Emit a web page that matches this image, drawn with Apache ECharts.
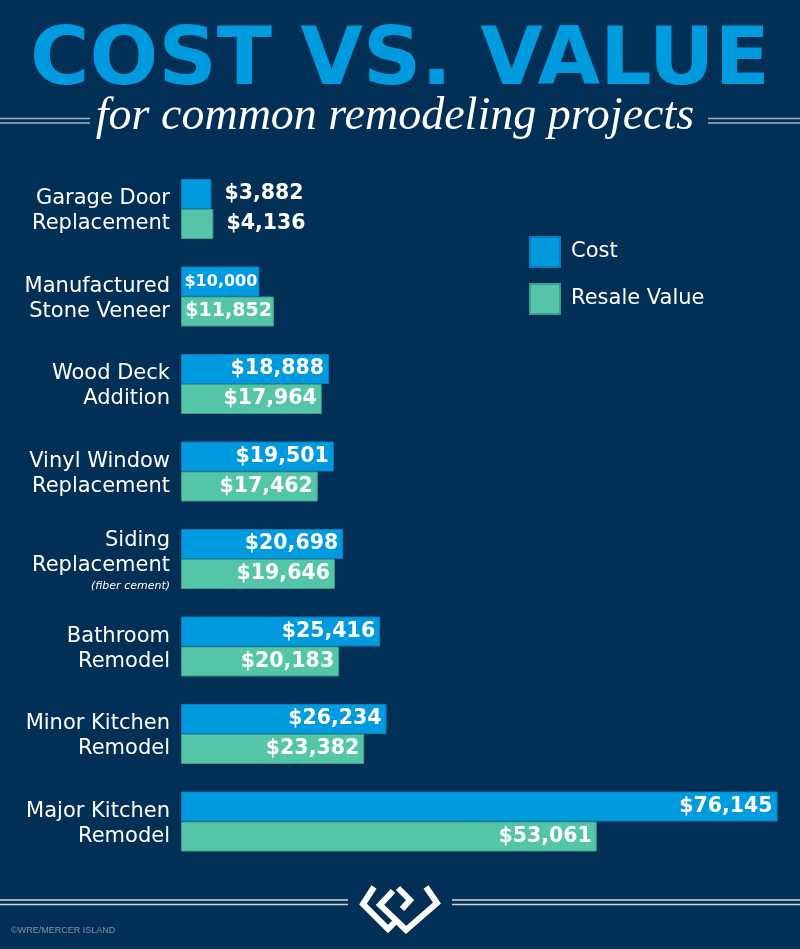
<!DOCTYPE html>
<html>
<head>
<meta charset="utf-8">
<script src="https://cdn.jsdelivr.net/npm/echarts@6/dist/echarts.min.js"></script>
<style>
html,body{margin:0;padding:0;background:#022f55;}
#chart{width:800px;height:949px;}
</style>
</head>
<body>
<div id="chart"></div>
<script>
const categories = [
  'Garage Door\nReplacement',
  'Manufactured\nStone Veneer',
  'Wood Deck\nAddition',
  'Vinyl Window\nReplacement',
  'Siding\nReplacement',
  'Bathroom\nRemodel',
  'Minor Kitchen\nRemodel',
  'Major Kitchen\nRemodel'
];
const categoryNotes = ['', '', '', '', '(fiber cement)', '', '', ''];
const costValues = [3882, 10000, 18888, 19501, 20698, 25416, 26234, 76145];
const resaleValues = [4136, 11852, 17964, 17462, 19646, 20183, 23382, 53061];
const seriesNames = ['Cost', 'Resale Value'];

const BG = '#022f55';
const BLUE = '#009bde';
const TEAL = '#54c5a6';
const FONT = 'DejaVu Sans';
const AXIS_MAX = 79000;
const GRID_LEFT = 181;
const GRID_WIDTH = 619;
const LABEL_SIZE = 20.5;

function money(v) {
  return '$' + v.toLocaleString('en-US');
}
// approximate text width of a bold DejaVu money label at a given size
function labelWidth(v, size) {
  const s = money(v);
  let w = 0;
  for (const ch of s) w += (ch === ',' ? 0.38 : 0.696);
  return w * size;
}
function buildData(values) {
  return values.map(function (v) {
    const barPx = v / AXIS_MAX * GRID_WIDTH;
    if (barPx < 60) {
      return { value: v, label: { position: 'right', distance: 13 } };
    }
    const need = labelWidth(v, LABEL_SIZE) + 8;
    if (need > barPx) {
      const size = Math.floor((barPx - 4) / labelWidth(v, 1));
      return { value: v, label: { fontSize: size, distance: 2 } };
    }
    return v;
  });
}

const chart = echarts.init(document.getElementById('chart'), null, { renderer: 'canvas' });

const option = {
  backgroundColor: BG,
  animation: false,
  grid: { left: GRID_LEFT, top: 165.25, width: GRID_WIDTH, height: 700, containLabel: false },
  xAxis: { type: 'value', min: 0, max: AXIS_MAX, show: false },
  yAxis: {
    type: 'category',
    data: categories,
    inverse: true,
    axisLine: { show: false },
    axisTick: { show: false },
    splitLine: { show: false },
    axisLabel: {
      color: '#ffffff',
      fontFamily: FONT,
      fontSize: 21,
      lineHeight: 25,
      align: 'right',
      margin: 11,
      padding: [5, 0, 0, 0],
      formatter: function (value, idx) {
        const note = categoryNotes[idx];
        return note ? value + '\n{s|' + note + '}' : value;
      },
      rich: {
        s: { fontFamily: FONT, fontSize: 11, fontStyle: 'italic', lineHeight: 16, color: '#ffffff', align: 'right' }
      }
    }
  },
  legend: {
    data: seriesNames,
    orient: 'vertical',
    left: 529,
    top: 236,
    itemWidth: 30,
    itemHeight: 30,
    itemGap: 15,
    padding: 0,
    icon: 'rect',
    textStyle: { color: '#ffffff', fontFamily: FONT, fontSize: 21, padding: [0, 0, 0, 6] }
  },
  series: [
    {
      name: seriesNames[0],
      type: 'bar',
      data: buildData(costValues),
      barWidth: 30,
      barGap: '0%',
      itemStyle: { color: BLUE, borderColor: '#0a7fbc', borderWidth: 1 },
      label: {
        show: true,
        position: 'insideRight',
        distance: 5,
        color: '#ffffff',
        fontFamily: FONT,
        fontWeight: 'bold',
        fontSize: LABEL_SIZE,
        formatter: function (p) { return money(p.value); }
      }
    },
    {
      name: seriesNames[1],
      type: 'bar',
      data: buildData(resaleValues),
      barWidth: 30,
      barGap: '0%',
      itemStyle: { color: TEAL, borderColor: '#3a9e8c', borderWidth: 1 },
      label: {
        show: true,
        position: 'insideRight',
        distance: 5,
        color: '#ffffff',
        fontFamily: FONT,
        fontWeight: 'bold',
        fontSize: LABEL_SIZE,
        formatter: function (p) { return money(p.value); }
      }
    }
  ],
  graphic: [
    {
      type: 'text', x: 400, y: 63,
      style: { text: 'COST VS. VALUE', fill: BLUE, font: 'bold 81px "DejaVu Sans"', align: 'center', verticalAlign: 'middle' }
    },
    {
      type: 'text', x: 395, y: 117,
      style: { text: 'for common remodeling projects', fill: '#ffffff', font: 'italic 46px "Liberation Serif"', align: 'center', verticalAlign: 'middle' }
    },
    { type: 'line', shape: { x1: 0, y1: 118.5, x2: 90, y2: 118.5 }, style: { stroke: '#9fb3c6', lineWidth: 1.5 } },
    { type: 'line', shape: { x1: 0, y1: 123, x2: 90, y2: 123 }, style: { stroke: '#9fb3c6', lineWidth: 1.5 } },
    { type: 'line', shape: { x1: 708, y1: 118.5, x2: 800, y2: 118.5 }, style: { stroke: '#9fb3c6', lineWidth: 1.5 } },
    { type: 'line', shape: { x1: 708, y1: 123, x2: 800, y2: 123 }, style: { stroke: '#9fb3c6', lineWidth: 1.5 } },
    { type: 'line', shape: { x1: 0, y1: 900, x2: 348, y2: 900 }, style: { stroke: '#d4d8de', lineWidth: 1.5 } },
    { type: 'line', shape: { x1: 0, y1: 904.5, x2: 348, y2: 904.5 }, style: { stroke: '#d4d8de', lineWidth: 1.5 } },
    { type: 'line', shape: { x1: 452, y1: 900, x2: 800, y2: 900 }, style: { stroke: '#d4d8de', lineWidth: 1.5 } },
    { type: 'line', shape: { x1: 452, y1: 904.5, x2: 800, y2: 904.5 }, style: { stroke: '#d4d8de', lineWidth: 1.5 } },
    {
      type: 'polyline',
      shape: { points: [[374, 887], [363, 904], [388, 929], [395, 922]] },
      style: { stroke: '#ffffff', lineWidth: 6, fill: null, lineJoin: 'miter' }
    },
    {
      type: 'polyline',
      shape: { points: [[426, 887], [437, 903], [406, 930], [380, 905], [393, 891]] },
      style: { stroke: '#ffffff', lineWidth: 6, fill: null, lineJoin: 'miter' }
    },
    {
      type: 'polyline',
      shape: { points: [[398, 888], [410, 900], [402, 909]] },
      style: { stroke: '#ffffff', lineWidth: 6, fill: null, lineJoin: 'miter' }
    },
    {
      type: 'text', x: 11, y: 931,
      style: { text: '©WRE/MERCER ISLAND', fill: '#7d91a6', font: '9px "Liberation Sans"', align: 'left', verticalAlign: 'middle' }
    }
  ]
};
chart.setOption(option);
</script>
</body>
</html>
